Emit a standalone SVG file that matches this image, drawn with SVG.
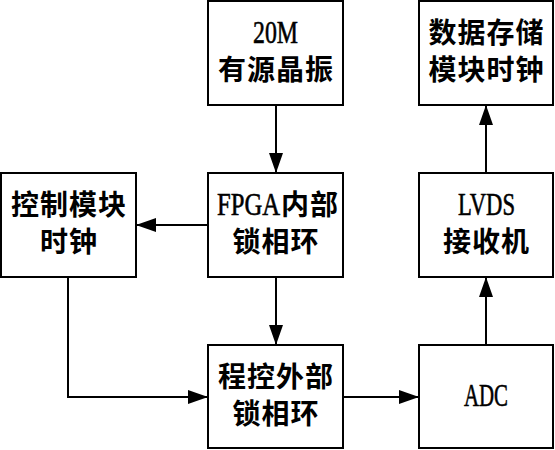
<svg xmlns="http://www.w3.org/2000/svg" width="555" height="450" viewBox="0 0 555 450">
<style>
.box{fill:#fff;stroke:#000;stroke-width:2}
.cn{font-family:"Noto Sans CJK SC","Liberation Serif",sans-serif;font-size:28px;font-weight:bold;fill:#000;text-anchor:middle;letter-spacing:1px}
.lat{font-family:"Liberation Serif",serif;font-weight:normal;font-size:32px;fill:#000;text-anchor:middle;stroke:#000;stroke-width:0.6}
.wire{fill:none;stroke:#000;stroke-width:2}
</style>
<defs>
<marker id="ah" markerUnits="userSpaceOnUse" markerWidth="20" markerHeight="16" refX="20" refY="8" orient="auto">
<path d="M0,1 L20,8 L0,15 Z" fill="#000"/>
</marker>
</defs>
<rect width="555" height="450" fill="#fff"/>
<g id="osc">
<rect class="box" x="208" y="1" width="135" height="104"/>
<text class="lat" x="275.5" y="43" textLength="45" lengthAdjust="spacingAndGlyphs">20M</text>
<text class="cn" x="276" y="80">有源晶振</text>
</g>
<g id="storage">
<rect class="box" x="419" y="1" width="134" height="104"/>
<text class="cn" x="486.5" y="43">数据存储</text>
<text class="cn" x="486.5" y="80">模块时钟</text>
</g>
<g id="ctrl">
<rect class="box" x="1" y="173" width="135" height="104"/>
<text class="cn" x="69" y="215">控制模块</text>
<text class="cn" x="69" y="252">时钟</text>
</g>
<g id="fpga">
<rect class="box" x="208" y="173" width="135" height="104"/>
<text class="lat" x="0" y="0" style="text-anchor:start" transform="translate(217,215) scale(0.77,1)">FPGA</text>
<text class="cn" x="281" y="215" style="text-anchor:start">内部</text>
<text class="cn" x="276" y="252">锁相环</text>
</g>
<g id="lvds">
<rect class="box" x="419" y="173" width="134" height="104"/>
<text class="lat" x="486.5" y="215" textLength="57" lengthAdjust="spacingAndGlyphs">LVDS</text>
<text class="cn" x="486.5" y="252">接收机</text>
</g>
<g id="pll">
<rect class="box" x="208" y="345" width="135" height="103"/>
<text class="cn" x="276" y="387">程控外部</text>
<text class="cn" x="276" y="424">锁相环</text>
</g>
<g id="adc">
<rect class="box" x="419" y="345" width="134" height="103"/>
<text class="lat" x="486" y="406" textLength="44" lengthAdjust="spacingAndGlyphs">ADC</text>
</g>
<g id="connectors">
<path class="wire" d="M276,105 V173" marker-end="url(#ah)"/>
<path class="wire" d="M208,225 H136" marker-end="url(#ah)"/>
<path class="wire" d="M276,277 V345" marker-end="url(#ah)"/>
<path class="wire" d="M68,277 V397 H208" marker-end="url(#ah)"/>
<path class="wire" d="M343,397 H419" marker-end="url(#ah)"/>
<path class="wire" d="M486,345 V277" marker-end="url(#ah)"/>
<path class="wire" d="M486,173 V105" marker-end="url(#ah)"/>
</g>
</svg>
